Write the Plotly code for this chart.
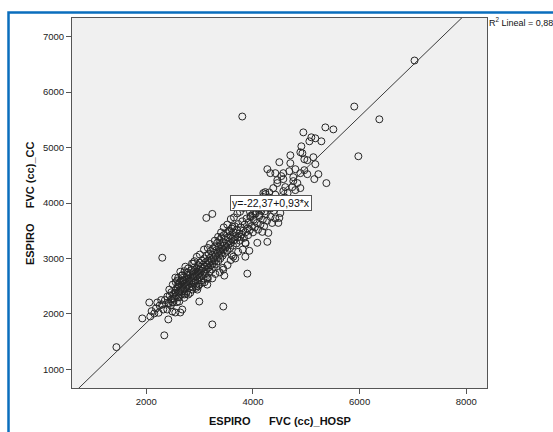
import plotly.graph_objects as go

# ---------------- data ----------------
# sparse / outlying points
a_x = [1440, 1925, 2056, 2075, 2150, 2206, 2300, 2338, 2413, 2994, 3238, 3444, 3895, 3800,
       7030, 5900, 6370, 5508, 5977, 5358, 4945]
a_y = [1400, 1918, 2205, 1954, 2008, 2205, 3013, 1613, 1900, 2223, 1810, 2133, 2726, 5560,
       6570, 5740, 5510, 5328, 4843, 5364, 5274]

# upper arm of the cloud
b_x = [5095, 5170, 5058, 5283, 4908, 4889, 4927, 4701, 5133, 4964, 5020, 4495, 4701, 5170,
       4270, 4795, 4964, 4682, 4326, 4420, 4570, 4889, 5020, 5227, 4532, 4757, 5151, 4457,
       4570, 4757, 5377, 4457, 4833, 4382, 4607, 4739, 4889, 4795, 4232, 4570, 4195]
b_y = [5185, 5167, 5113, 5113, 5023, 4915, 4897, 4861, 4826, 4790, 4772, 4736, 4718, 4700,
       4610, 4610, 4592, 4574, 4538, 4538, 4538, 4538, 4520, 4520, 4485, 4467, 4431, 4413,
       4431, 4395, 4359, 4359, 4359, 4269, 4287, 4287, 4269, 4233, 4197, 4215, 4179]

# middle, scattered points
c_x = [3126, 3238, 4514, 4476, 4495, 4082, 4270, 4176, 4289, 3632, 3857, 3932, 3857, 3763,
       4100, 4150, 4200, 4050, 4250, 4300, 4350, 4000, 3950, 4120, 4220, 4330, 4420, 4380,
       4450, 4600, 4650]
c_y = [3731, 3803, 3820, 3641, 3731, 3282, 3300, 3479, 3461, 3031, 3031, 3138, 3282, 3390,
       3900, 3950, 4050, 3850, 4000, 4100, 4050, 3800, 3750, 3780, 3850, 3900, 4150, 3980,
       4050, 4100, 4180]

# lower-left part of the cloud
d_x = [2100, 2180, 2230, 2250, 2280, 2300, 2319, 2350, 2394, 2394, 2420, 2431, 2460, 2488,
       2500, 2507, 2540, 2544, 2544, 2560, 2580, 2600, 2600, 2619, 2619, 2620, 2638, 2638,
       2650, 2675, 2675, 2680, 2700, 2700, 2720, 2732, 2750, 2760, 2780, 2788, 2800, 2882,
       2882, 2957, 2994, 3144, 3444, 3463]
d_y = [2050, 2100, 2020, 2150, 2250, 2169, 2079, 2250, 2079, 2313, 2200, 2438, 2150, 2043,
       2280, 2205, 2380, 2025, 2654, 2450, 2600, 2528, 2300, 2223, 2385, 2500, 2025, 2761,
       2600, 2079, 2492, 2700, 2450, 2600, 2550, 2851, 2650, 2500, 2750, 2349, 2600, 2905,
       2582, 2438, 2528, 2528, 2797, 2690]

# dense core
e_x = [2420, 2440, 2465, 2470, 2490, 2510, 2530, 2545, 2560, 2575,
       2590, 2605, 2615, 2630, 2640, 2655, 2660, 2680, 2690, 2705,
       2715, 2730, 2740, 2750, 2765, 2770, 2785, 2790, 2805, 2810,
       2820, 2830, 2840, 2850, 2855, 2865, 2870, 2880, 2890, 2895,
       2905, 2910, 2920, 2925, 2935, 2940, 2950, 2960, 2965, 2975,
       2980, 2990, 3000, 3005, 3015, 3020, 3030, 3035, 3045, 3050,
       3060, 3070, 3075, 3085, 3090, 3100, 3110, 3115, 3125, 3130,
       3140, 3150, 3155, 3165, 3170, 3180, 3190, 3195, 3205, 3210,
       3220, 3230, 3235, 3245, 3250, 3260, 3270, 3275, 3285, 3290,
       3300, 3310, 3315, 3325, 3330, 3340, 3350, 3355, 3365, 3370,
       3380, 3390, 3395, 3405, 3410, 3420, 3430, 3435, 3445, 3450,
       3460, 3470, 3480, 3490, 3500, 3510, 3520, 3530, 3540, 3550,
       3560, 3570, 3580, 3590, 3600, 3615, 3625, 3640, 3650, 3660,
       3675, 3690, 3700, 3715, 3725, 3740, 3755, 3770, 3785, 3800,
       3815, 3830, 3845, 3860, 3880, 3895, 3910, 3925, 3940, 3960,
       3980, 4000, 4015, 4035, 4055, 4075, 4095, 4115, 4140, 4160,
       4185, 4210, 4240, 4265, 4300, 4330, 4360, 4390, 4420]
e_y = [2180, 2330, 2260, 2390, 2210, 2360, 2270, 2420, 2330, 2210,
       2480, 2400, 2300, 2560, 2440, 2350, 2520, 2610, 2420, 2540,
       2350, 2470, 2620, 2560, 2410, 2700, 2520, 2630, 2470, 2580,
       2720, 2650, 2540, 2790, 2600, 2700, 2480, 2650, 2760, 2560,
       2840, 2680, 2600, 2740, 2500, 2820, 2680, 2760, 2610, 2880,
       2720, 2800, 2660, 2920, 2740, 2850, 2600, 2780, 2960, 2700,
       2830, 2890, 2640, 2760, 3000, 2850, 2720, 2930, 2800, 3050,
       2880, 2660, 2960, 2830, 3080, 2920, 2760, 3010, 2870, 3130,
       2960, 2800, 3060, 2900, 3180, 3000, 2850, 3100, 2950, 3220,
       3050, 2900, 3150, 3000, 3280, 3100, 2950, 3200, 3050, 3330,
       3140, 3000, 3240, 3090, 3380, 3180, 3050, 3290, 3150, 3420,
       3230, 3100, 3340, 3200, 3460, 3270, 3140, 3380, 3240, 3500,
       3310, 3190, 3420, 3280, 3540, 3360, 3230, 3470, 3330, 3580,
       3400, 3270, 3520, 3380, 3620, 3450, 3320, 3560, 3430, 3670,
       3500, 3370, 3610, 3470, 3720, 3540, 3420, 3650, 3510, 3770,
       3580, 3470, 3700, 3560, 3810, 3640, 3520, 3750, 3610, 3860,
       3700, 3580, 3800, 3680, 3920, 3750, 3640, 3860, 3720]

# upper edge of the band
f_x = [3452, 3518, 3585, 3644, 3706, 3757, 3823, 3874, 3945, 4003, 4061, 4118, 4186, 4237,
       4306, 3563, 3618, 3402, 3347, 3284, 3196, 3153, 3082, 3004, 2947, 2903, 2858, 2784,
       2717, 2663, 2598, 2552, 2497]
f_y = [3560, 3610, 3710, 3740, 3810, 3840, 3910, 3950, 3840, 4010, 3940, 4070, 4110, 4160,
       4190, 3490, 3570, 3470, 3390, 3320, 3260, 3190, 3160, 3070, 3030, 2950, 2910, 2820,
       2770, 2690, 2650, 2570, 2530]

# lower edge of the band
g_x = [2710, 2745, 2825, 2862, 2938, 2976, 3048, 3093, 3152, 3238, 3296, 3377, 3436, 3524,
       3583, 3668, 3722, 3808, 3862, 3605]
g_y = [2290, 2360, 2380, 2440, 2470, 2500, 2560, 2570, 2630, 2640, 2720, 2750, 2830, 2880,
       2970, 3000, 3120, 3160, 3270, 3060]

# regression
intercept = -22.37
slope = 0.93
eq_text = "y=-22,37+0,93*x"
r2_text = "R<sup>2</sup> Lineal = 0,88"

x_ticks = [2000, 4000, 6000, 8000]
y_ticks = [1000, 2000, 3000, 4000, 5000, 6000, 7000]
x_range = [607, 8389]
y_range = [663, 7337]

x_title = "ESPIRO" + "\u00a0" * 6 + "FVC (cc)_HOSP"
y_title = "ESPIRO" + "\u00a0" * 5 + "FVC (cc)_CC"

# ---------------- figure ----------------
hosp = a_x + b_x + c_x + d_x + e_x + f_x + g_x
cc = a_y + b_y + c_y + d_y + e_y + f_y + g_y

FONT = "Arial, 'Liberation Sans', sans-serif"

fig = go.Figure()
line_x = [x_range[0], x_range[1]]
line_y = [intercept + slope * v for v in line_x]
fig.add_trace(go.Scatter(x=hosp, y=cc, mode="markers",
                         marker=dict(symbol="circle-open", size=7, color="#262626",
                                     line=dict(width=1, color="#262626")),
                         hoverinfo="skip", showlegend=False))
fig.add_trace(go.Scatter(x=line_x, y=line_y, mode="lines",
                         line=dict(color="#3a3a3a", width=1),
                         hoverinfo="skip", showlegend=False))

axis_common = dict(showgrid=False, zeroline=False, showline=True, mirror=True,
                   linecolor="#555555", linewidth=1, ticks="outside", ticklen=5,
                   tickcolor="#555555", tickwidth=1,
                   tickfont=dict(family=FONT, size=9.5, color="#222222"))

fig.update_layout(
    width=553, height=432,
    margin=dict(l=72, r=66, t=18, b=44),
    paper_bgcolor="white", plot_bgcolor="#F0F0F0",
    showlegend=False,
    xaxis=dict(range=x_range, tickvals=x_ticks, **axis_common),
    yaxis=dict(range=y_range, tickvals=y_ticks, **axis_common),
    shapes=[dict(type="rect", xref="paper", yref="paper",
                 x0=-0.153, x1=1.25, y0=-0.25, y1=1.0149,
                 line=dict(color="#0a6ebd", width=2.5), fillcolor="rgba(0,0,0,0)",
                 layer="above")],
    annotations=[
        dict(x=4336, y=4000, xref="x", yref="y", text=eq_text, showarrow=False,
             font=dict(family=FONT, size=10.5, color="#111111"),
             bgcolor="white", bordercolor="#555555", borderwidth=1, borderpad=1),
        dict(x=1.0, y=0.99, xref="paper", yref="paper", text=r2_text,
             showarrow=False, xanchor="left", yanchor="middle",
             font=dict(family=FONT, size=9, color="#111111")),
        dict(x=0.5, y=-0.088, xref="paper", yref="paper", text=x_title,
             showarrow=False, xanchor="center", yanchor="middle",
             font=dict(family=FONT, size=11, color="#111111", weight="bold")),
        dict(x=-0.101, y=0.5, xref="paper", yref="paper", text=y_title,
             showarrow=False, xanchor="center", yanchor="middle", textangle=-90,
             font=dict(family=FONT, size=11, color="#111111", weight="bold")),
    ],
)

fig.write_html(
    "out.html",
    config={"displayModeBar": False},
    post_script="document.body.style.margin='0';document.body.style.overflow='hidden';",
)
